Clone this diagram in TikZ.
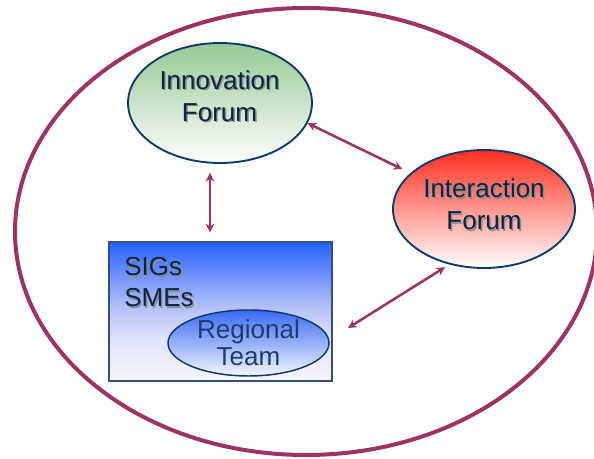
\documentclass[tikz,border=0pt]{standalone}
\usepackage{fontspec}
\setmainfont{Liberation Sans}
\usepackage{tikz}
\usetikzlibrary{arrows.meta, positioning, shapes.geometric}

\definecolor{ringred}{HTML}{9B3465}
\definecolor{navy}{HTML}{0B3A6A}
\definecolor{boxnavy}{HTML}{34507A}
\definecolor{textnavy}{HTML}{0A2444}
\definecolor{teamtext}{HTML}{1B3C6E}
\definecolor{shadowgray}{gray}{0.55}
\definecolor{forumgreen}{HTML}{96C994}
\definecolor{forumred}{HTML}{FF3020}
\definecolor{sigblue}{HTML}{2262FF}
\definecolor{sigmid}{HTML}{6A8EFF}
\definecolor{sigpale}{HTML}{B0BFF6}
\definecolor{sigmist}{HTML}{E0E4FA}
\definecolor{sigwhite}{HTML}{F6F6FD}
\definecolor{teamblue}{HTML}{3A6AF5}
\definecolor{teamwhite}{HTML}{F4F6FF}

\pgfdeclareverticalshading{sigfade}{100bp}{color(0bp)=(sigwhite); color(25bp)=(sigwhite);
  color(40bp)=(sigmist); color(52bp)=(sigpale); color(64bp)=(sigmid); color(75bp)=(sigblue);
  color(100bp)=(sigblue)}

\newcommand{\px}[1]{#1*0.75pt}
\newcommand{\shadowed}[1]{\makebox[0pt][l]{\kern1.1pt\raisebox{-1.1pt}{\color{shadowgray}#1}}#1}

\tikzset{
  forum/.style={ellipse, draw=navy, line width=1.4pt, inner sep=0pt},
  forumtext/.style={align=center, text=textnavy, inner sep=0pt,
    font=\fontsize{19.5}{24}\selectfont},
  link/.style={draw=ringred, line width=1.9pt,
    {Stealth[length=6.5pt,width=6.5pt]}-{Stealth[length=6.5pt,width=6.5pt]}},
}

\begin{document}
\begin{tikzpicture}[x=0.75pt, y=-0.75pt]

\useasboundingbox (0,0) rectangle (594,459);

% outer ring
\node[ellipse, draw=ringred, line width=3pt, inner sep=0pt,
  minimum width={\px{582}}, minimum height={\px{447}}] (ring) at (306,231.5) {};

% forums
\node[forum, top color=forumgreen, middle color=forumgreen!45!white, bottom color=white,
  minimum width={\px{184}}, minimum height={\px{120}}] (innov) at (220,103) {};
\node[forumtext] (innovtext) at (219.5,96.5) {\shadowed{Innovation}\\\shadowed{Forum}};

\node[forum, top color=forumred, middle color=forumred!42!white, bottom color=white,
  minimum width={\px{182}}, minimum height={\px{118}}] (inter) at (484,209) {};
\node[forumtext] (intertext) at (484,205) {\shadowed{Interaction}\\\shadowed{Forum}};

% SIGs / SMEs box
\node[draw=boxnavy, line width=1pt, shade, shading=sigfade,
  inner sep=0pt, minimum width={\px{223}}, minimum height={\px{139}}] (sigbox) at (220.5,311.5) {};
\node[forumtext, align=left, anchor=north west,
  font=\fontsize{19.5}{23.25}\selectfont] (sigtext) at (124,257.5) {\shadowed{SIGs}\\\shadowed{SMEs}};

\node[ellipse, draw=navy, line width=1.1pt, top color=teamblue, middle color=teamblue!45!white,
  bottom color=teamwhite, inner sep=0pt, minimum width={\px{161}}, minimum height={\px{66}},
  align=center, text=teamtext, font=\fontsize{19.5}{20.25}\selectfont] (team) at (248.5,343) {Regional\\Team};

% links
\coordinate (teamend) at (348,328);

\draw[link, shorten <={\px{9}}, shorten >={\px{9}}] ([xshift={\px{-10}}]innov.south) -- ([xshift={\px{-10.5}}]sigbox.north);
\draw[link, shorten >={\px{9}}] (innov.-13) -- (inter.154);
\draw[link, shorten <={\px{5}}] (inter.238) -- (teamend);

\end{tikzpicture}
\end{document}
